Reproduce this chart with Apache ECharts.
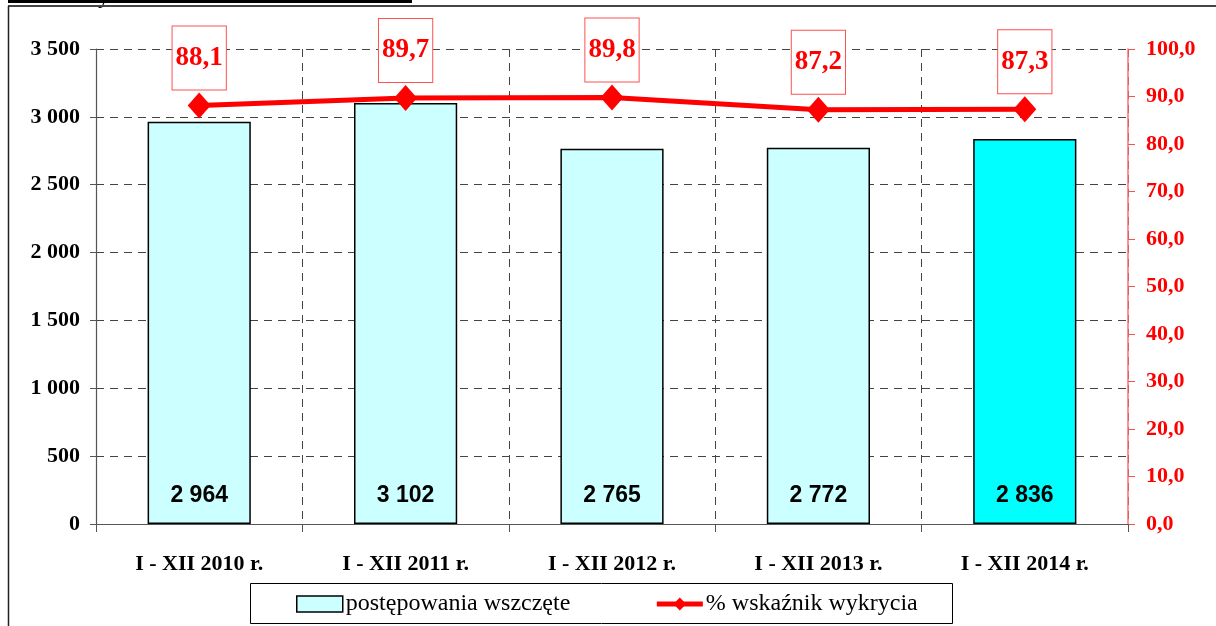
<!DOCTYPE html>
<html>
<head>
<meta charset="utf-8">
<script src="https://cdn.jsdelivr.net/npm/echarts@6/dist/echarts.min.js"></script>
<style>
html,body{margin:0;padding:0;background:#fff;}
#chart{width:1216px;height:626px;}
</style>
</head>
<body>
<div id="chart"></div>
<script>
const categories = ['I - XII 2010 r.', 'I - XII 2011 r.', 'I - XII 2012 r.', 'I - XII 2013 r.', 'I - XII 2014 r.'];
const cases = [2964, 3102, 2765, 2772, 2836];
const detection = [88.1, 89.7, 89.8, 87.2, 87.3];
const barSeriesName = 'postępowania wszczęte';
const lineSeriesName = '% wskaźnik wykrycia';

function fmtThousands(v) {
  return String(v).replace(/\B(?=(\d{3})+(?!\d))/g, ' ');
}
function fmtComma(v) {
  return Number(v).toFixed(1).replace('.', ',');
}

const serif = '"Liberation Serif", "Times New Roman", serif';
const sans = '"Liberation Sans", Arial, sans-serif';

const chart = echarts.init(document.getElementById('chart'), null, {renderer: 'canvas'});
chart.setOption({
  animation: false,
  backgroundColor: '#ffffff',
  grid: {left: 96, right: 88, top: 49, bottom: 102, containLabel: false},
  graphic: [
    {type: 'line', shape: {x1: 8, y1: 1.5, x2: 412, y2: 1.5}, style: {stroke: '#000', lineWidth: 3}},
    {type: 'text', left: 98, top: -14, style: {text: 'y', font: 'bold 22px "Liberation Serif", serif', fill: '#000'}},
    {type: 'line', shape: {x1: 8, y1: 6, x2: 1216, y2: 6}, style: {stroke: '#444', lineWidth: 2}},
    {type: 'line', shape: {x1: 8.5, y1: 6, x2: 8.5, y2: 626}, style: {stroke: '#222', lineWidth: 1.5}},
    {type: 'rect', shape: {x: 250.5, y: 583.5, width: 702, height: 40}, style: {fill: 'none', stroke: '#000', lineWidth: 1}}
  ],
  legend: {
    left: 296,
    top: 592,
    itemWidth: 46,
    itemHeight: 16,
    itemGap: 84,
    padding: 0,
    textStyle: {fontFamily: serif, fontSize: 24, color: '#000', padding: [0, 0, 0, -2]},
    data: [
      {name: barSeriesName, icon: 'rect', itemStyle: {borderColor: '#000', borderWidth: 1.5}},
      {name: lineSeriesName, lineStyle: {width: 5, color: '#ff0000'}}
    ]
  },
  xAxis: {
    type: 'category',
    data: categories,
    axisLine: {lineStyle: {color: '#555', width: 1.2}},
    axisTick: {show: true, length: 8, lineStyle: {color: '#555'}},
    axisLabel: {fontFamily: serif, fontWeight: 'bold', fontSize: 22, color: '#000', margin: 29},
    splitLine: {show: true, lineStyle: {color: '#444', type: [8, 6], width: 1}}
  },
  yAxis: [
    {
      type: 'value',
      min: 0, max: 3500, interval: 500,
      axisLine: {show: true, lineStyle: {color: '#555', width: 1.2}},
      axisTick: {show: true, length: 6, lineStyle: {color: '#555'}},
      axisLabel: {fontFamily: serif, fontWeight: 'bold', fontSize: 22, color: '#000', margin: 16,
        formatter: v => fmtThousands(v)},
      splitLine: {show: true, lineStyle: {color: '#444', type: [8, 6], width: 1}}
    },
    {
      type: 'value',
      min: 0, max: 100, interval: 10,
      position: 'right',
      axisLine: {show: true, lineStyle: {color: '#ff7070', width: 1.5}},
      axisTick: {show: true, length: 7, lineStyle: {color: '#ff5050'}},
      axisLabel: {fontFamily: serif, fontWeight: 'bold', fontSize: 22, color: '#ff0000', margin: 18,
        formatter: v => fmtComma(v)},
      splitLine: {show: false}
    }
  ],
  series: [
    {
      name: barSeriesName,
      type: 'bar',
      yAxisIndex: 0,
      barWidth: '50%',
      data: cases.map((v, i) => ({
        value: v,
        itemStyle: {color: i === cases.length - 1 ? '#00ffff' : '#ccffff'}
      })),
      itemStyle: {color: '#ccffff', borderColor: '#000', borderWidth: 1.5},
      label: {
        show: true, position: 'insideBottom', distance: 17,
        fontFamily: sans, fontWeight: 'bold', fontSize: 23, color: '#000',
        formatter: p => fmtThousands(p.value)
      },
      z: 2
    },
    {
      name: lineSeriesName,
      type: 'line',
      yAxisIndex: 1,
      data: detection,
      symbol: 'diamond',
      symbolSize: [23, 26],
      lineStyle: {color: '#ff0000', width: 5},
      itemStyle: {color: '#ff0000'},
      label: {
        show: true, position: 'top', distance: 3,
        fontFamily: serif, fontWeight: 'bold', fontSize: 27, color: '#ff0000',
        lineHeight: 27,
        borderColor: '#ff5050', borderWidth: 1, backgroundColor: '#ffffff',
        padding: [18, 3, 18, 3],
        formatter: p => fmtComma(p.value)
      },
      z: 5
    }
  ]
});
</script>
</body>
</html>
